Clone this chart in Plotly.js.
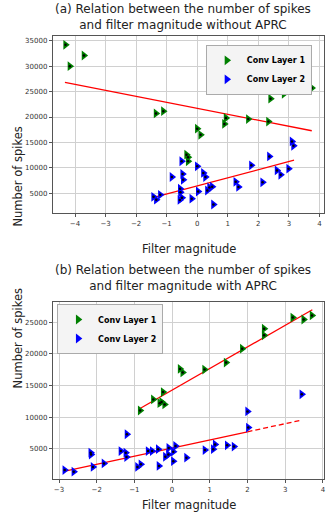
<!DOCTYPE html>
<html>
<head>
<meta charset="utf-8">
<script src="https://cdn.plot.ly/plotly-3.0.1.min.js"></script>
<style>
  html, body { margin: 0; padding: 0; background: #fff; }
  #chart { width: 332px; height: 516px; }
</style>
</head>
<body>
<div id="chart"></div>
<script>
// (a) without APRC
var aLayer1X = [-4.31, -3.71, -4.17, -1.35, -1.11, 2.4, 2.84, 3.75, 0.94, 1.67, 2.33, 0.89, 0.0, 0.11, -0.35, -0.3, -0.3];
var aLayer1Y = [34200, 32100, 30000, 20700, 21150, 23600, 24550, 25700, 19800, 19600, 19100, 18650, 17700, 16500, 12600, 12100, 11300];
var aLayer2X = [3.1, 3.15, 2.36, 1.77, 2.61, 2.73, 2.99, 2.14, 1.26, 1.35, 0.2, 0.27, 0.0, -0.51, -0.48, -0.46, -0.83, -0.56, -0.55, -0.57, -0.5, -0.18, 0.03, 0.4, 0.49, 0.33, 0.53, -1.43, -1.34, -1.21];
var aLayer2Y = [15200, 14350, 12250, 10500, 9500, 8650, 9850, 7150, 7250, 6250, 9000, 8200, 10300, 11300, 8800, 7650, 8200, 5900, 5200, 3700, 4100, 3950, 5350, 6150, 6300, 5550, 2800, 4300, 3750, 4700];
var aFit1X = [-4.33, 3.75], aFit1Y = [26800, 17300];
var aFit2X = [-1.39, 3.17], aFit2Y = [4250, 11500];

// (b) with APRC
var bLayer1X = [3.2, 3.49, 3.71, 2.44, 2.44, 1.86, 1.43, 0.86, 0.21, 0.28, -0.24, -0.5, -0.28, -0.2, -0.33, -0.85];
var bLayer1Y = [25700, 25400, 26050, 23950, 22900, 20800, 18600, 17500, 17600, 17050, 13950, 12800, 12400, 12000, 12200, 11050];
var bLayer2X = [3.44, 2.0, 2.02, -1.2, 1.46, 1.64, 1.14, 1.09, 0.87, 0.09, -0.09, 0.03, -0.37, -0.64, -0.53, -1.36, -1.23, -1.21, -2.16, -2.15, -0.18, -0.1, -0.83, -0.92, -0.35, 0.03, 0.38, -1.81, -2.1, -2.85, -2.61];
var bLayer2Y = [13600, 10900, 8350, 7300, 5550, 5350, 5700, 4950, 4800, 5450, 5150, 4550, 4950, 4650, 4650, 4650, 4400, 3700, 4400, 4100, 3750, 4100, 2550, 2150, 2300, 3050, 3600, 2700, 2150, 1650, 1400];
var bFit1X = [-0.84, 3.72], bFit1Y = [11400, 26950];
var bFit2X = [-2.81, 2.0], bFit2Y = [1540, 7690];
var bFit2ExtX = [2.0, 3.44], bFit2ExtY = [7690, 9530];

var xTicksA = [-4, -3, -2, -1, 0, 1, 2, 3, 4];
var xTicksB = [-3, -2, -1, 0, 1, 2, 3, 4];
var yTicksA = [5000, 10000, 15000, 20000, 25000, 30000, 35000];
var yTicksB = [5000, 10000, 15000, 20000, 25000];

var FONT = 'DejaVu Sans, Verdana, sans-serif';

function points(x, y, name, color, xa, ya, leg) {
	return {
		x: x, y: y, name: name, type: 'scatter', mode: 'markers',
		xaxis: xa, yaxis: ya, legend: leg,
		marker: {symbol: 'triangle-right', size: 8.5, color: color, line: {width: 0}}
	};
}
function dots(x, y, xa, ya) {
	return {
		x: x, y: y, type: 'scatter', mode: 'markers', xaxis: xa, yaxis: ya,
		showlegend: false, hoverinfo: 'skip',
		marker: {symbol: 'circle', size: 2.5, color: '#000'}
	};
}
function fit(x, y, xa, ya, dash) {
	return {
		x: x, y: y, type: 'scatter', mode: 'lines', xaxis: xa, yaxis: ya,
		showlegend: false, hoverinfo: 'skip',
		line: {color: '#ff0000', width: 1.3, dash: dash || 'solid'}
	};
}

var data = [
	fit(aFit1X, aFit1Y, 'x', 'y'),
	fit(aFit2X, aFit2Y, 'x', 'y'),
	points(aLayer1X, aLayer1Y, 'Conv Layer 1', '#008000', 'x', 'y', 'legend'),
	points(aLayer2X, aLayer2Y, 'Conv Layer 2', '#0000ff', 'x', 'y', 'legend'),
	dots(aLayer1X, aLayer1Y, 'x', 'y'),
	dots(aLayer2X, aLayer2Y, 'x', 'y'),
	fit(bFit1X, bFit1Y, 'x2', 'y2'),
	fit(bFit2X, bFit2Y, 'x2', 'y2'),
	fit(bFit2ExtX, bFit2ExtY, 'x2', 'y2', '5px,3px'),
	points(bLayer1X, bLayer1Y, 'Conv Layer 1', '#008000', 'x2', 'y2', 'legend2'),
	points(bLayer2X, bLayer2Y, 'Conv Layer 2', '#0000ff', 'x2', 'y2', 'legend2'),
	dots(bLayer1X, bLayer1Y, 'x2', 'y2'),
	dots(bLayer2X, bLayer2Y, 'x2', 'y2')
];

function axis(range, ticks, anchor, domain) {
	return {
		range: range, tickvals: ticks, tickformat: 'd', anchor: anchor, domain: domain,
		showgrid: true, gridcolor: '#d0d0d0', gridwidth: 1,
		zeroline: false, showline: true, mirror: true,
		linecolor: '#555', linewidth: 1.2,
		ticks: 'outside', ticklen: 3, tickcolor: '#555',
		tickfont: {family: FONT, size: 7, color: '#333'}
	};
}

var legendStyle = {
	bgcolor: '#f4f4f4', bordercolor: '#aaa', borderwidth: 1,
	font: {family: FONT, size: 8, color: '#000', weight: 'bold'},
	itemsizing: 'trace', itemwidth: 30, tracegroupgap: 0
};

var layout = {
	width: 332, height: 516,
	margin: {l: 53, r: 8, t: 36, b: 37},
	paper_bgcolor: '#fff', plot_bgcolor: '#fff',
	showlegend: true,
	xaxis: axis([-4.72, 4.15], xTicksA, 'y', [0, 1]),
	yaxis: axis([1130, 35930], yTicksA, 'x', [0.6005, 1]),
	xaxis2: axis([-3.16, 4.03], xTicksB, 'y2', [0, 1]),
	yaxis2: axis([240, 28160], yTicksB, 'x2', [0, 0.3995]),
	legend: Object.assign({x: 0.955, y: 0.98, xanchor: 'right', yanchor: 'top'}, legendStyle),
	legend2: Object.assign({x: 0.015, y: 0.395, xanchor: 'left', yanchor: 'top'}, legendStyle),
	annotations: [
		{text: '(a) Relation between the number of spikes<br>and filter magnitude without APRC',
			xref: 'paper', yref: 'paper', x: 0.48, y: 1, yshift: 36, yanchor: 'top', showarrow: false,
			font: {family: FONT, size: 12, color: '#222'}},
		{text: 'Filter magnitude', xref: 'paper', yref: 'paper', x: 0.5, y: 0.6005, yshift: -27,
			yanchor: 'top', showarrow: false, font: {family: FONT, size: 11.5, color: '#222'}},
		{text: 'Number of spikes', xref: 'paper', yref: 'paper', x: 0, xshift: -44, y: 0.8, textangle: -90,
			showarrow: false, font: {family: FONT, size: 11.5, color: '#222'}},
		{text: '(b) Relation between the number of spikes<br>and filter magnitude with APRC',
			xref: 'paper', yref: 'paper', x: 0.48, y: 0.3995, yshift: 41, yanchor: 'top', showarrow: false,
			font: {family: FONT, size: 12, color: '#222'}},
		{text: 'Filter magnitude', xref: 'paper', yref: 'paper', x: 0.5, y: 0, yshift: -17,
			yanchor: 'top', showarrow: false, font: {family: FONT, size: 11.5, color: '#222'}},
		{text: 'Number of spikes', xref: 'paper', yref: 'paper', x: 0, xshift: -44, y: 0.2, textangle: -90,
			showarrow: false, font: {family: FONT, size: 11.5, color: '#222'}}
	]
};

Plotly.newPlot('chart', data, layout, {displayModeBar: false, staticPlot: true});
</script>
</body>
</html>
